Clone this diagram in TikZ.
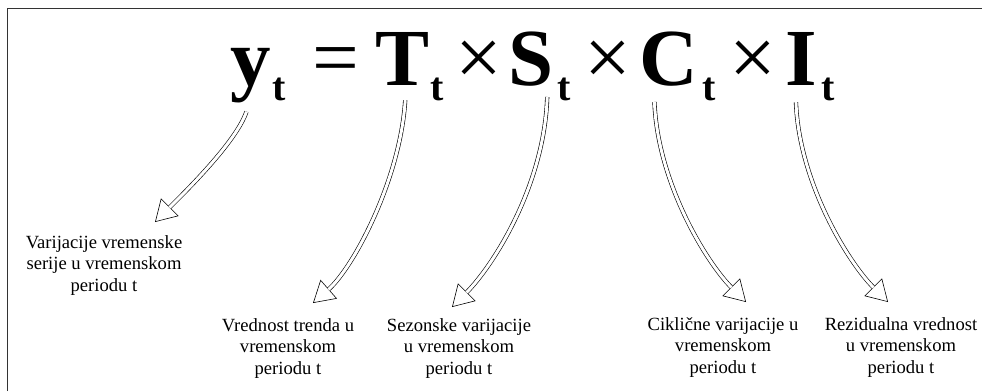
\documentclass[tikz,border=0pt]{standalone}
\usepackage{fontspec}
\setmainfont{Liberation Serif}
\usetikzlibrary{positioning,arrows.meta}
\tikzset{
  bigsym/.style={inner sep=0pt, anchor=base west, font=\fontsize{81}{81}\selectfont\bfseries},
  opsym/.style={inner sep=0pt, anchor=base west, font=\fontsize{83}{83}\selectfont},
  subsym/.style={inner sep=0pt, anchor=base west, font=\fontsize{40}{40}\selectfont\bfseries},
  desc/.style={align=center, anchor=north, inner sep=0pt, font=\fontsize{18.6}{21.5}\selectfont},
  hollowhead/.style={draw=white, line width=0.6pt, -{Triangle[length=21pt, width=25pt, color=black, fill=white]}},
  hollowshaft/.style={double, double distance=3pt, line width=0.6pt, shorten >=20.5pt}
}
\begin{document}
\begin{tikzpicture}[x=1pt, y=-1pt]
  \useasboundingbox (0,0) rectangle (982,391);
  \draw[line width=0.8pt, black!80] (7,391) -- (7,8) -- (982,8);
  % equation
  \node[bigsym] (ysym) at (230,85) {y};
  \node[subsym] (ysub) at (272,100) {t};
  \node[opsym] (eqsym) at (312,85) {=};
  \node[bigsym] (Tsym) at (375,85) {T};
  \node[subsym] (Tsub) at (430,100) {t};
  \node[opsym] (times1) at (455,85) {×};
  \node[bigsym] (Ssym) at (508,85) {S};
  \node[subsym] (Ssub) at (557,100) {t};
  \node[opsym] (times2) at (584,85) {×};
  \node[bigsym] (Csym) at (639,85) {C};
  \node[subsym] (Csub) at (702,100) {t};
  \node[opsym] (times3) at (729,85) {×};
  \node[bigsym] (Isym) at (785,85) {I};
  \node[subsym] (Isub) at (821,100) {t};
  % descriptions
  \node[desc] (lab1) at (104,235) {Varijacije vremenske\\ serije u vremenskom\\ periodu t};
  \node[desc] (lab2) at (288,318) {Vrednost trenda u\\ vremenskom\\ periodu t};
  \node[desc] (lab3) at (459,318) {Sezonske varijacije\\ u vremenskom\\ periodu t};
  \node[desc] (lab4) at (723,317) {Ciklične varijacije u\\ vremenskom\\ periodu t};
  \node[desc] (lab5) at (901,317) {Rezidualna vrednost\\ u vremenskom\\ periodu t};
  % hollow arrows
  \draw[hollowhead] ([xshift=-4pt,yshift=-9pt]ysym.south) .. controls +(-10,30) and +(30,-30) .. ([xshift=51pt,yshift=13pt]lab1.north);
  \draw[hollowshaft] ([xshift=-4pt,yshift=-9pt]ysym.south) .. controls +(-10,30) and +(30,-30) .. ([xshift=51pt,yshift=13pt]lab1.north);
  \draw[hollowhead] ([xshift=3pt,yshift=-15pt]Tsym.south) .. controls +(-5,80) and +(40,-35) .. ([xshift=25pt,yshift=15pt]lab2.north);
  \draw[hollowshaft] ([xshift=3pt,yshift=-15pt]Tsym.south) .. controls +(-5,80) and +(40,-35) .. ([xshift=25pt,yshift=15pt]lab2.north);
  \draw[hollowhead] ([xshift=16.5pt,yshift=-11pt]Ssym.south) .. controls +(-3,90) and +(40,-40) .. ([xshift=-7pt,yshift=11pt]lab3.north);
  \draw[hollowshaft] ([xshift=16.5pt,yshift=-11pt]Ssym.south) .. controls +(-3,90) and +(40,-40) .. ([xshift=-7pt,yshift=11pt]lab3.north);
  \draw[hollowhead] ([xshift=-14pt,yshift=-16pt]Csym.south) .. controls +(3,80) and +(-40,-40) .. ([xshift=23pt,yshift=15pt]lab4.north);
  \draw[hollowshaft] ([xshift=-14pt,yshift=-16pt]Csym.south) .. controls +(3,80) and +(-40,-40) .. ([xshift=23pt,yshift=15pt]lab4.north);
  \draw[hollowhead] ([xshift=-5pt,yshift=-17pt]Isym.south) .. controls +(3,80) and +(-40,-40) .. ([xshift=-13pt,yshift=15pt]lab5.north);
  \draw[hollowshaft] ([xshift=-5pt,yshift=-17pt]Isym.south) .. controls +(3,80) and +(-40,-40) .. ([xshift=-13pt,yshift=15pt]lab5.north);
\end{tikzpicture}
\end{document}
